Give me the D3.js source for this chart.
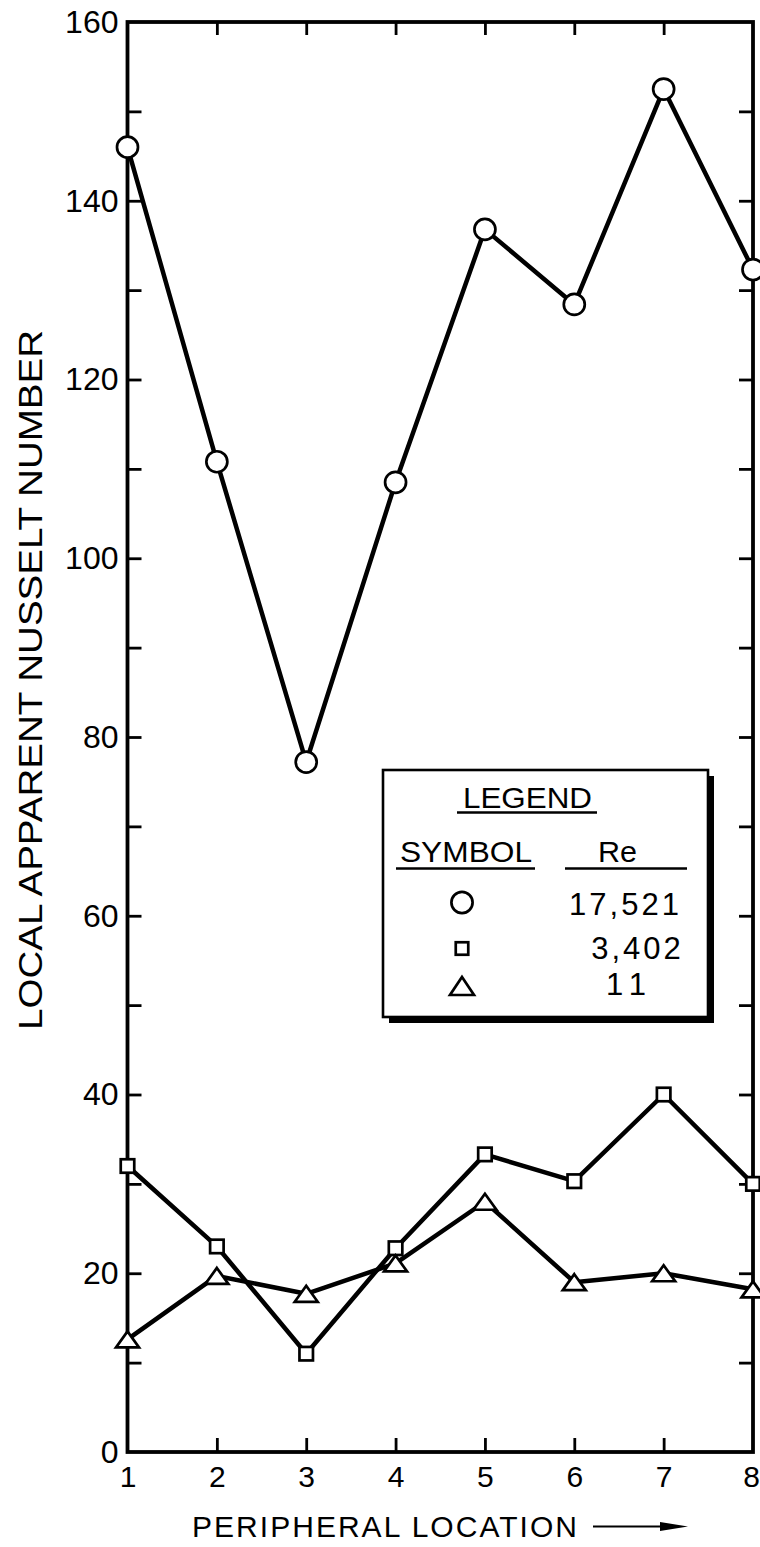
<!DOCTYPE html>
<html>
<head>
<meta charset="utf-8">
<script src="https://cdn.jsdelivr.net/npm/d3@7"></script>
<style>
  html, body { margin: 0; padding: 0; background: #fff; }
  svg { display: block; }
  text { font-family: "Liberation Sans", Arial, sans-serif; fill: #000; }
</style>
</head>
<body>
<svg id="chart" width="760" height="1547"></svg>
<script>
// Peripheral measurement stations around the tube wall
const locations = [1, 2, 3, 4, 5, 6, 7, 8];

// Local apparent Nusselt number at each station, one list per Reynolds number
const nuRe17521 = [146.0, 110.8, 77.2, 108.5, 136.8, 128.4, 152.5, 132.3];
const nuRe3402  = [32.0, 23.0, 11.0, 22.8, 33.3, 30.3, 40.0, 30.0];
const nuRe11    = [12.6, 19.7, 17.7, 21.1, 28.0, 19.0, 20.0, 18.2];

// Axis tick values
const yLabelTicks = [0, 20, 40, 60, 80, 100, 120, 140, 160];
const yMinorTicks = [10, 20, 30, 40, 50, 60, 70, 80, 90, 100, 110, 120, 130, 140, 150];
const xInnerTicks = [2, 3, 4, 5, 6, 7];

// Legend content
const legendSymbols = ["circle", "square", "triangle"];
const legendRe = ["17,521", "3,402", "11"];

const svg = d3.select("#chart");

const x = d3.scaleLinear().domain([1, 8]).range([127.5, 753]);
const y = d3.scaleLinear().domain([0, 160]).range([1452, 22]);

const INK = "#000";

// ---- marker shapes ----
function trianglePath(w, h) {
  return `M0,${-h / 2}L${w / 2},${h / 2}L${-w / 2},${h / 2}Z`;
}
function drawMarker(g, kind, cx, cy, big) {
  if (kind === "circle") {
    g.append("circle").attr("cx", cx).attr("cy", cy).attr("r", big ? 10.6 : 10.5)
      .attr("fill", "#fff").attr("stroke", INK).attr("stroke-width", 2.7);
  } else if (kind === "square") {
    const s = big ? 12.5 : 13.5;
    g.append("rect").attr("x", cx - s / 2).attr("y", cy - s / 2).attr("width", s).attr("height", s)
      .attr("fill", "#fff").attr("stroke", INK).attr("stroke-width", 2.7);
  } else {
    g.append("path").attr("d", big ? trianglePath(24, 18) : trianglePath(23, 16))
      .attr("transform", `translate(${cx},${cy})`)
      .attr("fill", "#fff").attr("stroke", INK).attr("stroke-width", 2.7)
      .attr("stroke-linejoin", "miter");
  }
}

// ---- axes: inward ticks on all four sides ----
const axisG = svg.append("g");

axisG.append("g").attr("transform", `translate(${x(1)},0)`)
  .call(d3.axisLeft(y).tickValues(yMinorTicks).tickSize(-14).tickFormat(""))
  .call(g => g.select(".domain").remove())
  .call(g => g.selectAll("line").attr("stroke", INK).attr("stroke-width", 2.8));

axisG.append("g").attr("transform", `translate(${x(8)},0)`)
  .call(d3.axisRight(y).tickValues(yMinorTicks).tickSize(-14).tickFormat(""))
  .call(g => g.select(".domain").remove())
  .call(g => g.selectAll("line").attr("stroke", INK).attr("stroke-width", 2.8));

axisG.append("g").attr("transform", `translate(0,${y(160)})`)
  .call(d3.axisTop(x).tickValues(xInnerTicks).tickSize(-13).tickFormat(""))
  .call(g => g.select(".domain").remove())
  .call(g => g.selectAll("line").attr("stroke", INK).attr("stroke-width", 2.8));

axisG.append("g").attr("transform", `translate(0,${y(0)})`)
  .call(d3.axisBottom(x).tickValues(xInnerTicks).tickSize(-14).tickFormat(""))
  .call(g => g.select(".domain").remove())
  .call(g => g.selectAll("line").attr("stroke", INK).attr("stroke-width", 2.8));

// frame
axisG.append("rect")
  .attr("x", x(1)).attr("y", y(160))
  .attr("width", x(8) - x(1)).attr("height", y(0) - y(160))
  .attr("fill", "none").attr("stroke", INK).attr("stroke-width", 3.8);

// tick labels
axisG.append("g").attr("transform", `translate(${x(1)},0)`)
  .call(d3.axisLeft(y).tickValues(yLabelTicks).tickSize(0).tickPadding(9).tickFormat(d3.format("d")))
  .call(g => g.select(".domain").remove())
  .call(g => g.selectAll("text").attr("font-size", 32).attr("font-family", '"Liberation Sans", Arial, sans-serif').attr("fill", INK));

axisG.append("g").attr("transform", `translate(0,${y(0)})`)
  .call(d3.axisBottom(x).tickValues(locations).tickSize(0).tickPadding(14).tickFormat(d3.format("d")))
  .call(g => g.select(".domain").remove())
  .call(g => g.selectAll("text").attr("font-size", 30).attr("font-family", '"Liberation Sans", Arial, sans-serif').attr("fill", INK))
  .call(g => g.selectAll("text").filter(d => d === 8).attr("dx", -2));

// axis titles
svg.append("text")
  .attr("transform", "translate(42,680) rotate(-90)")
  .attr("text-anchor", "middle")
  .attr("font-size", 34)
  .attr("textLength", 700)
  .attr("lengthAdjust", "spacingAndGlyphs")
  .text("LOCAL APPARENT NUSSELT NUMBER");

svg.append("text")
  .attr("x", 192).attr("y", 1537)
  .attr("font-size", 30)
  .attr("textLength", 385)
  .attr("lengthAdjust", "spacing")
  .text("PERIPHERAL LOCATION");

// arrow after the x title
svg.append("line")
  .attr("x1", 593).attr("x2", 668).attr("y1", 1526.5).attr("y2", 1526.5)
  .attr("stroke", INK).attr("stroke-width", 2.2);
svg.append("path")
  .attr("d", "M660,1522L688,1526.5L660,1531Z")
  .attr("fill", INK);

// ---- legend box ----
const lg = svg.append("g");
const LB = { x: 383, y: 770, w: 325, h: 247 };
lg.append("rect").attr("x", LB.x + 6).attr("y", LB.y + 6).attr("width", LB.w).attr("height", LB.h).attr("fill", INK);
lg.append("rect").attr("x", LB.x).attr("y", LB.y).attr("width", LB.w).attr("height", LB.h)
  .attr("fill", "#fff").attr("stroke", INK).attr("stroke-width", 2.6);

lg.append("text").attr("x", 463).attr("y", 808).attr("font-size", 30)
  .attr("textLength", 129).attr("lengthAdjust", "spacingAndGlyphs").text("LEGEND");
lg.append("line").attr("x1", 457).attr("x2", 597).attr("y1", 812.5).attr("y2", 812.5)
  .attr("stroke", INK).attr("stroke-width", 2.4);

lg.append("text").attr("x", 400).attr("y", 862).attr("font-size", 29)
  .attr("textLength", 132).attr("lengthAdjust", "spacingAndGlyphs").text("SYMBOL");
lg.append("line").attr("x1", 396).attr("x2", 535).attr("y1", 868.5).attr("y2", 868.5)
  .attr("stroke", INK).attr("stroke-width", 2.4);

lg.append("text").attr("x", 598).attr("y", 862).attr("font-size", 29)
  .attr("textLength", 39).attr("lengthAdjust", "spacingAndGlyphs").text("Re");
lg.append("line").attr("x1", 565).attr("x2", 687).attr("y1", 868.5).attr("y2", 868.5)
  .attr("stroke", INK).attr("stroke-width", 2.4);

// legend rows: symbol on the left, Reynolds number centred on the right column
const rowY = [902.5, 948.5, 986];
const rowBase = [915, 959, 995];
const rowTextX = [625.5, 637.5, 630];
const rowSpacing = [3, 3, 8];
legendSymbols.forEach((kind, i) => {
  drawMarker(lg, kind, 462, rowY[i], true);
  lg.append("text").attr("x", rowTextX[i]).attr("y", rowBase[i]).attr("font-size", 31)
    .attr("text-anchor", "middle").attr("letter-spacing", rowSpacing[i])
    .text(legendRe[i]);
});

// ---- data series ----
const series = [
  { kind: "circle", values: nuRe17521 },
  { kind: "square", values: nuRe3402 },
  { kind: "triangle", values: nuRe11 }
];

const line = d3.line().x((d, i) => x(locations[i])).y(d => y(d));

const plot = svg.append("g");
series.forEach(s => {
  plot.append("path")
    .attr("d", line(s.values))
    .attr("fill", "none")
    .attr("stroke", INK)
    .attr("stroke-width", 4.5)
    .attr("stroke-linejoin", "round");
});
series.forEach(s => {
  const mg = plot.append("g");
  s.values.forEach((v, i) => drawMarker(mg, s.kind, x(locations[i]), y(v), false));
});
</script>
</body>
</html>
